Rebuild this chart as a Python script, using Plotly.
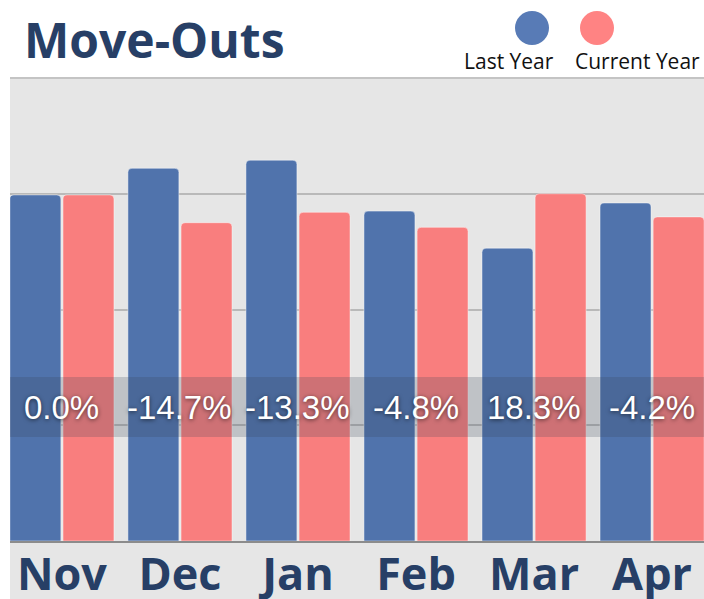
import plotly.graph_objects as go

months = ["Nov", "Dec", "Jan", "Feb", "Mar", "Apr"]
last_year = [29.9, 32.2, 32.9, 28.5, 25.3, 29.2]
current_year = [29.9, 27.5, 28.4, 27.1, 30.0, 28.0]
pct_labels = ["0.0%", "-14.7%", "-13.3%", "-4.8%", "18.3%", "-4.2%"]

BLUE = "#5073ac"
RED = "#f97e7e"
NAVY = "#273f66"

W, H = 704, 599
ML, MR, MT, MB = 10, 0, 78, 58
PW, PH = W - ML - MR, H - MT - MB

def px_x(p):
    return (p - ML) / PW

def px_y(p):
    return (H - MB - p) / PH

fig = go.Figure()
fig.add_trace(go.Bar(x=months, y=last_year, name="Last Year",
                     marker=dict(color=BLUE, line=dict(width=1, color="rgba(255,255,255,0.45)"),
                                 cornerradius=4)))
fig.add_trace(go.Bar(x=months, y=current_year, name="Current Year",
                     marker=dict(color=RED, line=dict(width=1, color="rgba(255,255,255,0.45)"),
                                 cornerradius=4)))

shapes = [
    dict(type="rect", xref="paper", yref="paper", x0=0, x1=1, y0=px_y(H), y1=0,
         fillcolor="#e6e6e6", line=dict(width=0), layer="below"),
    dict(type="rect", xref="paper", yref="paper", x0=0, x1=1, y0=px_y(437), y1=px_y(377),
         fillcolor="rgba(55,70,85,0.22)", line=dict(width=0), layer="above"),
    dict(type="line", xref="paper", yref="paper", x0=0, x1=1, y0=1, y1=1,
         line=dict(color="#c4c4c4", width=2)),
    dict(type="circle", xref="paper", yref="paper", x0=px_x(515), x1=px_x(549),
         y0=px_y(45), y1=px_y(11), fillcolor="#587bb6", line=dict(width=0)),
    dict(type="circle", xref="paper", yref="paper", x0=px_x(580), x1=px_x(614),
         y0=px_y(45), y1=px_y(11), fillcolor="#ff8383", line=dict(width=0)),
]

annotations = [
    dict(text="Move-Outs", xref="paper", yref="paper", x=px_x(22), y=px_y(39),
         xanchor="left", yanchor="middle", showarrow=False,
         font=dict(family="Open Sans", size=48, color=NAVY, weight="bold")),
    dict(text="Last Year", xref="paper", yref="paper", x=px_x(509), y=px_y(61),
         xanchor="center", yanchor="middle", showarrow=False,
         font=dict(family="Open Sans", size=21, color="#111111")),
    dict(text="Current Year", xref="paper", yref="paper", x=px_x(637), y=px_y(61),
         xanchor="center", yanchor="middle", showarrow=False,
         font=dict(family="Open Sans", size=21, color="#111111")),
]
for m, lab in zip(months, pct_labels):
    annotations.append(dict(text=lab, x=m, xref="x", yref="paper", y=px_y(407),
                            xanchor="center", yanchor="middle", showarrow=False,
                            font=dict(family="Liberation Sans", size=33, color="white",
                                      shadow="0px 1px 4px rgba(0,0,0,0.6)")))

fig.update_layout(
    width=W, height=H,
    margin=dict(l=ML, r=MR, t=MT, b=MB, pad=0, autoexpand=False),
    paper_bgcolor="white", plot_bgcolor="#e6e6e6",
    barmode="group", bargap=0.10, bargroupgap=0.04,
    showlegend=False,
    shapes=shapes, annotations=annotations,
    xaxis=dict(type="category", range=[-0.44, 5.44], showgrid=False, zeroline=False,
               automargin=False,
               showline=True, linecolor="#8c8c8c", linewidth=2, ticks="",
               tickfont=dict(family="Open Sans", size=45, color=NAVY, weight="bold"),
               ticklabelstandoff=-7),
    yaxis=dict(range=[0, 40], dtick=10, showgrid=True, gridcolor="#b9b9b9", gridwidth=1.5,
               zeroline=False, showticklabels=False, ticks="", automargin=False),
)

fig.write_html("out.html", config={"displayModeBar": False},
               post_script="document.body.style.margin='0';document.body.style.overflow='hidden';")
